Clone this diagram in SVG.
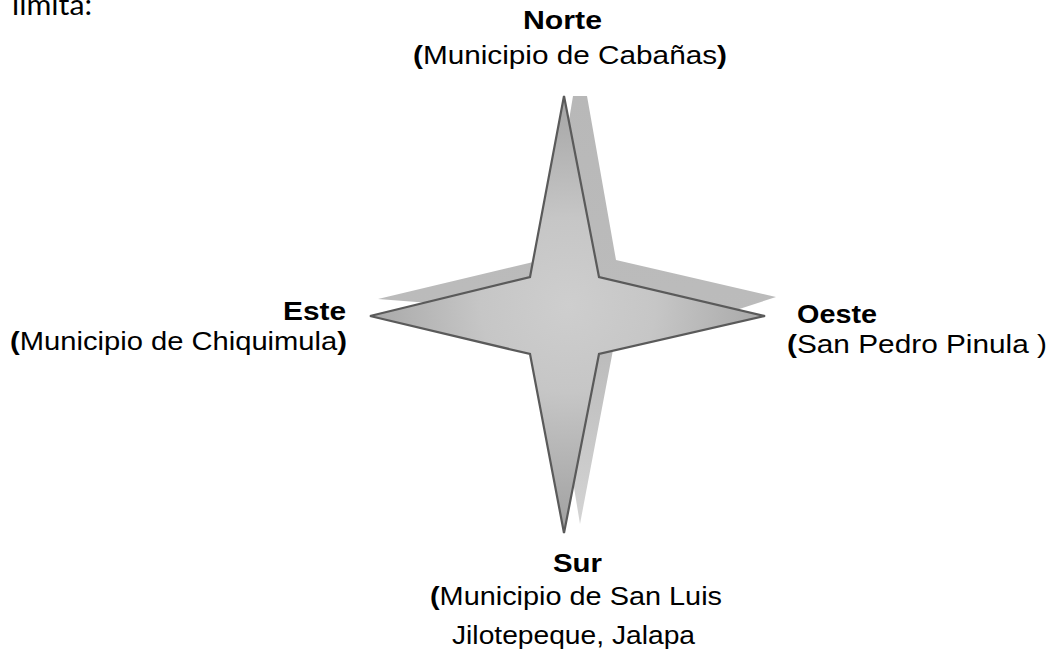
<svg xmlns="http://www.w3.org/2000/svg" width="1055" height="652" viewBox="0 0 1055 652">
  <defs>
    <radialGradient id="starFill" gradientUnits="userSpaceOnUse" cx="568" cy="305" r="250">
      <stop offset="0" stop-color="#cecece"/>
      <stop offset="0.35" stop-color="#c6c6c6"/>
      <stop offset="1" stop-color="#9a9a9a"/>
    </radialGradient>
    <linearGradient id="shadowFill" gradientUnits="userSpaceOnUse" x1="0" y1="96" x2="0" y2="525">
      <stop offset="0" stop-color="#b8b8b8"/>
      <stop offset="0.6" stop-color="#bcbcbc"/>
      <stop offset="1" stop-color="#d4d4d4"/>
    </linearGradient>
    <style>
      .lbl { font-family: "Liberation Sans", Arial, sans-serif; font-size: 26px; fill: #000; }
      .b { font-weight: bold; }
      .body { font-family: Lato, "Liberation Sans", sans-serif; font-size: 29px; fill: #000; }
    </style>
  </defs>
  <rect width="1055" height="652" fill="#ffffff"/>

  <text class="body" x="12" y="15" textLength="80" lengthAdjust="spacingAndGlyphs">limita:</text>

  <g id="star">
    <polygon id="star-shadow" fill="url(#shadowFill)" points="573,96 587,96 616,260 776,297 613,350 580,524 545,312 378,299 546,259"/>
    <polygon id="star-main" fill="url(#starFill)" stroke="#5a5a5a" stroke-width="2.2" stroke-linejoin="miter" points="564,96 599,277 765,316 599,354 564,533 530,354 370,316 530,277"/>
  </g>

  <g id="norte">
    <text class="lbl b" x="523" y="29" textLength="79" lengthAdjust="spacingAndGlyphs">Norte</text>
    <text class="lbl" x="413" y="64" textLength="314" lengthAdjust="spacingAndGlyphs"><tspan class="b">(</tspan>Municipio de Cabañas<tspan class="b">)</tspan></text>
  </g>

  <g id="este">
    <text class="lbl b" x="283" y="320" textLength="63" lengthAdjust="spacingAndGlyphs">Este</text>
    <text class="lbl" x="10" y="350" textLength="337" lengthAdjust="spacingAndGlyphs"><tspan class="b">(</tspan>Municipio de Chiquimula<tspan class="b">)</tspan></text>
  </g>

  <g id="oeste">
    <text class="lbl b" x="797" y="323" textLength="80" lengthAdjust="spacingAndGlyphs">Oeste</text>
    <text class="lbl" x="787" y="353" textLength="260" lengthAdjust="spacingAndGlyphs"><tspan class="b">(</tspan>San Pedro Pinula )</text>
  </g>

  <g id="sur">
    <text class="lbl b" x="553" y="572" textLength="49" lengthAdjust="spacingAndGlyphs">Sur</text>
    <text class="lbl" x="430" y="605" textLength="292" lengthAdjust="spacingAndGlyphs"><tspan class="b">(</tspan>Municipio de San Luis</text>
    <text class="lbl" x="452" y="644" textLength="243" lengthAdjust="spacingAndGlyphs">Jilotepeque, Jalapa</text>
  </g>

  <g id="connectors"/>
</svg>
